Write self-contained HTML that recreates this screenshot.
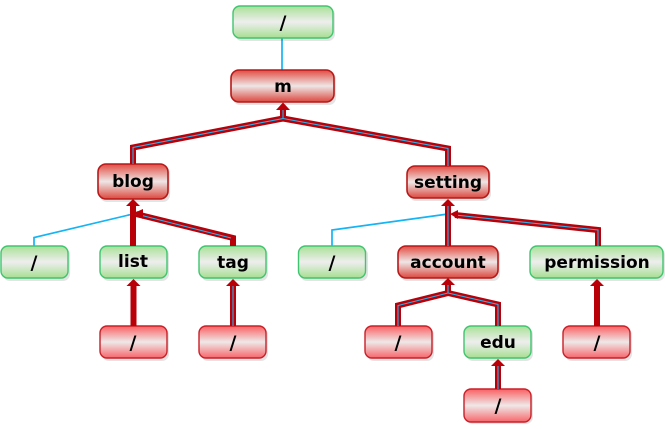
<!DOCTYPE html>
<html>
<head>
<meta charset="utf-8">
<style>
html,body{margin:0;padding:0;background:#fff;width:666px;height:429px;overflow:hidden}
svg{display:block}
text{font-family:"DejaVu Sans","Liberation Sans",sans-serif;font-weight:bold;font-size:17px;fill:#000;text-anchor:middle}
text.sl{font-size:19px}
.g rect.b{fill:url(#gg);stroke:#3fc56f;stroke-width:1.4}
.r rect.b{fill:url(#gr);stroke:#c92028;stroke-width:1.4}
.d rect.b{fill:url(#gd);stroke:#b81818;stroke-width:1.6}
.s{fill:#000;opacity:.1}
.c{fill:none;stroke:#14b4f5;stroke-width:1.7}
.o{fill:none;stroke:#b90008;stroke-width:6;stroke-linejoin:miter}
.i{fill:none;stroke:#22b6f2;stroke-width:1.1}
.a{fill:#b90008}
</style>
</head>
<body>
<svg width="666" height="429" viewBox="0 0 666 429" xmlns="http://www.w3.org/2000/svg">
<defs>
<linearGradient id="gg" x1="0" y1="0" x2="0" y2="1"><stop offset="0" stop-color="#a9e096"/><stop offset=".5" stop-color="#eeeeee"/><stop offset="1" stop-color="#a6df92"/></linearGradient>
<linearGradient id="gr" x1="0" y1="0" x2="0" y2="1"><stop offset="0" stop-color="#fa6063"/><stop offset=".5" stop-color="#efe8e8"/><stop offset="1" stop-color="#f7666a"/></linearGradient>
<linearGradient id="gd" x1="0" y1="0" x2="0" y2="1"><stop offset="0" stop-color="#e24c42"/><stop offset=".5" stop-color="#eee6e6"/><stop offset="1" stop-color="#dc483e"/></linearGradient>
</defs>

<!-- thin connectors -->
<path class="c" d="M282 38V70"/>
<path class="c" d="M34 246V237.500L133 214"/>
<path class="c" d="M332 246V230L448 214"/>

<!-- shadows -->
<g class="s">
<rect x="235" y="8" width="100" height="33" rx="7"/>
<rect x="233" y="72" width="103" height="33" rx="7"/>
<rect x="100" y="166" width="70" height="36" rx="7"/>
<rect x="409" y="168" width="82" height="33" rx="7"/>
<rect x="3" y="248" width="67" height="33" rx="7"/>
<rect x="102" y="248" width="67" height="33" rx="7"/>
<rect x="201" y="248" width="67" height="33" rx="7"/>
<rect x="300" y="248" width="68" height="33" rx="7"/>
<rect x="400" y="248" width="100" height="33" rx="7"/>
<rect x="532" y="248" width="133" height="33" rx="7"/>
<rect x="102" y="328" width="67" height="33" rx="7"/>
<rect x="201" y="328" width="67" height="33" rx="7"/>
<rect x="367" y="328" width="67" height="33" rx="7"/>
<rect x="466" y="328" width="67" height="33" rx="7"/>
<rect x="565" y="328" width="67" height="33" rx="7"/>
<rect x="466" y="391" width="67" height="33" rx="7"/>
</g>

<!-- nodes -->
<g class="g">
<rect class="b" x="233" y="6" width="100" height="32" rx="7"/>
<rect class="b" x="1" y="246" width="67" height="32" rx="7"/>
<rect class="b" x="100" y="246" width="67" height="32" rx="7"/>
<rect class="b" x="199" y="246" width="67" height="32" rx="7"/>
<rect class="b" x="298.500" y="246" width="67" height="32" rx="7"/>
<rect class="b" x="530" y="246" width="133" height="32" rx="7"/>
<rect class="b" x="464" y="326" width="67" height="32" rx="7"/>
</g>
<g class="d">
<rect class="b" x="231" y="70" width="103" height="32" rx="8"/>
<rect class="b" x="98" y="164" width="70" height="35" rx="8"/>
<rect class="b" x="407" y="166" width="82" height="32" rx="8"/>
<rect class="b" x="398" y="246" width="100" height="32" rx="8"/>
</g>
<g class="r">
<rect class="b" x="100" y="326" width="67" height="32" rx="7"/>
<rect class="b" x="199" y="326" width="67" height="32" rx="7"/>
<rect class="b" x="365" y="326" width="67" height="32" rx="7"/>
<rect class="b" x="563" y="326" width="67" height="32" rx="7"/>
<rect class="b" x="464" y="389" width="67" height="33" rx="7"/>
</g>

<!-- thick connectors -->
<path class="o" d="M133 164V147.500L283 118.500V108"/>
<path class="o" d="M448 166V148.500L283 118.500"/>
<path class="i" d="M133 164V147.500L283 118.500V108"/>
<path class="i" d="M448 166V148.500L283 118.500"/>
<path class="a" d="M283 102.500L290 110H276Z"/>

<path class="o" d="M133 246V205"/>
<path class="o" d="M233 246V238L136 214"/>
<path class="i" d="M231 238L136 214"/>
<path class="a" d="M133 199L140 206H126Z"/>
<path class="a" d="M134 213L143 209V219Z"/>

<path class="o" d="M448 246V205"/>
<path class="i" d="M448 246V205"/>
<path class="a" d="M448 199L455 206H441Z"/>
<path class="o" d="M598 246V230L455 215"/>
<path class="i" d="M598 246V230L455 215"/>
<path class="a" d="M450 214L458 210V219Z"/>

<path class="o" d="M398 326V305.500L448 293V284"/>
<path class="o" d="M498 326V304.500L448 293"/>
<path class="i" d="M398 326V305.500L448 293V284"/>
<path class="i" d="M498 326V304.500L448 293"/>
<path class="a" d="M448 278L455 285H441Z"/>

<path class="o" d="M133.500 326V285"/>
<path class="a" d="M133.500 279L140.500 286H126.500Z"/>
<path class="o" d="M233 326V285"/>
<path class="i" d="M233 326V285"/>
<path class="a" d="M233 279L240 286H226Z"/>
<path class="o" d="M597 326V285"/>
<path class="a" d="M597 279L604 286H590Z"/>
<path class="o" d="M498 389V365"/>
<path class="i" d="M498 389V365"/>
<path class="a" d="M498 359L505 366H491Z"/>

<!-- labels -->
<text class="sl" x="283" y="29">/</text>
<text x="283" y="92">m</text>
<text x="133" y="187">blog</text>
<text x="448" y="188">setting</text>
<text class="sl" x="34" y="269">/</text>
<text x="133" y="267">list</text>
<text x="233" y="268">tag</text>
<text class="sl" x="332" y="269">/</text>
<text x="448" y="268">account</text>
<text x="597" y="268">permission</text>
<text class="sl" x="133" y="349">/</text>
<text class="sl" x="233" y="349">/</text>
<text class="sl" x="398" y="349">/</text>
<text x="498" y="348">edu</text>
<text class="sl" x="597" y="349">/</text>
<text class="sl" x="498" y="412">/</text>
</svg>
</body>
</html>
